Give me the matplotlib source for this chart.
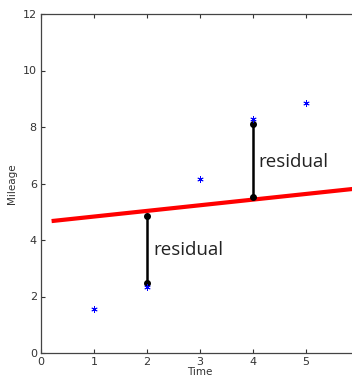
'''Scatter of mileage over time with a fitted line and two residuals marked'''

import numpy as np
import matplotlib
matplotlib.use('Agg')
import matplotlib.pyplot as plt

# data
time = [1, 2, 3, 4, 5]
mileage = [1.57, 2.35, 6.15, 8.30, 8.86]

# fitted line, drawn between its two end points
fit_x = [0.2, 6.0]
fit_y = [4.67, 5.83]

# residual segments: x, bottom, top
resid_x = [2, 4]
resid_lo = [2.49, 5.52]
resid_hi = [4.84, 8.10]
resid_label_x = [2.12, 4.11]
resid_label_y = [3.65, 6.77]

xticks = [0, 1, 2, 3, 4, 5]
yticks = [0, 2, 4, 6, 8, 10, 12]

fig = plt.figure(figsize=(3.52, 3.77), dpi=100)
# the axes run past the right edge of the picture, as in the original crop
ax = fig.add_axes([41/352, 24/377, 318/352, 339/377])

ax.plot(fit_x, fit_y, color='red', lw=3.0, solid_capstyle='butt', zorder=2)

for x, lo, hi in zip(resid_x, resid_lo, resid_hi):
    ax.plot([x, x], [lo, hi], color='black', lw=1.8, marker='o', ms=4, zorder=3)

ax.plot(time, mileage, ls='none', marker=(6, 2, 0), ms=4.5, mew=0.6,
        color='blue', zorder=4)

for tx, ty in zip(resid_label_x, resid_label_y):
    ax.text(tx, ty, 'residual', fontsize=13.5, family='Open Sans',
            color='#222222', va='center', ha='left')

ax.set_xlim(0, 6)
ax.set_ylim(0, 12)
ax.set_xticks(xticks)
ax.set_yticks(yticks)
ax.tick_params(direction='in', length=3, width=0.8, top=True, right=False,
               labelsize=8, colors='#333333', pad=3)
for side in ['left', 'bottom', 'top']:
    ax.spines[side].set_color('#444444')
    ax.spines[side].set_linewidth(0.9)
ax.spines['right'].set_visible(False)

ax.set_xlabel('Time', fontsize=7.5, color='#333333', labelpad=0)
ax.set_ylabel('Mileage', fontsize=7.5, color='#333333', labelpad=4)

fig.savefig('out.png', dpi=100)
